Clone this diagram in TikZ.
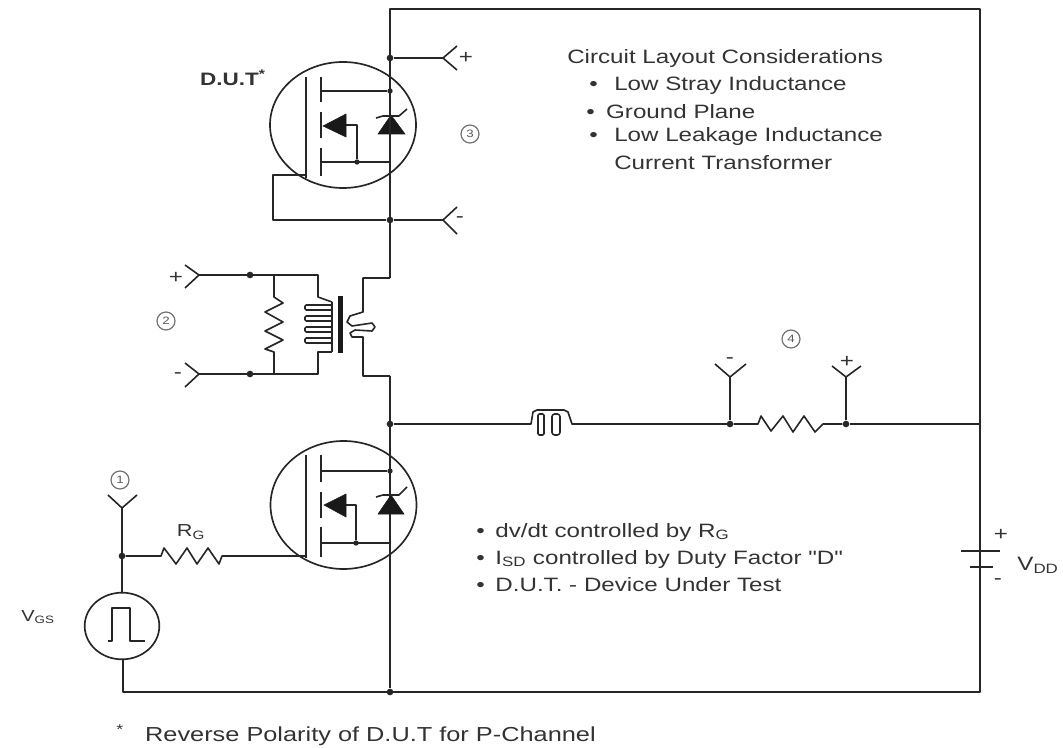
\documentclass[tikz,border=0pt]{standalone}
\usepackage{fontspec}
\newfontfamily\notefont[FakeStretch=1.25]{Liberation Sans}
\usetikzlibrary{shapes.geometric}

\begin{document}
\begin{tikzpicture}[
    x=0.75pt, y=-0.75pt,
    wire/.style={draw=black!85, line width=1.2pt, line join=round},
    symbol/.style={wire, line width=1.2pt},
    dot/.style={circle, fill=black!85, inner sep=0pt, minimum size=5pt},
    envelope/.style={ellipse, draw=black!85, line width=1.25pt, inner sep=0pt},
    txt/.style={text=black!80, font=\notefont\fontsize{14.5}{17}\selectfont, inner sep=0pt},
    stepmark/.style={text=black!65, font=\notefont\fontsize{8}{9}\selectfont, draw=black!55, circle, line width=0.9pt, inner sep=0pt, minimum size=13.5pt},
    solidfill/.style={fill=black!90, draw=black!90}
]
\useasboundingbox (0,0) rectangle (1063,748);

% Corners of the main loop
\coordinate (topleft) at (390,9);
\coordinate (topright) at (980,9);
\coordinate (botleft) at (123,692);
\coordinate (botright) at (980,692);
\node[dot] (botj) at (390,692) {};
\node[dot] (midj) at (390,424) {};
\coordinate (midr) at (980,424);

% D.U.T. mosfet
\node[envelope, minimum width=109.5pt, minimum height=94.5pt] (dut) at (343,125) {};
\node[dot] (sensep) at (390,58) {};
\node[dot] (sensem) at (390,220) {};
\node[dot, minimum size=4pt] (dutd) at (390,91) {};
\node[dot, minimum size=4pt] (duts) at (357,162) {};
\draw[symbol] (306,77) -- (306,178);
\draw[symbol] (321,77) -- (321,102) (321,112) -- (321,138) (321,148) -- (321,176);
\draw[symbol] (321,91) -- (dutd);
\draw[symbol] (321,162) -- (390,162);
\draw[symbol] (346,125) -- (357,125) -- (duts);
\draw[solidfill] (323,126) -- (346,114) -- (346,137) -- cycle;
\draw[solidfill] (391,115) -- (405,134) -- (378,134) -- cycle;
\draw[symbol] (376,118) -- (383,116) -- (399,116) -- (407,109);
\draw[wire] (306,175) -- (273,175) -- (273,220) -- (sensem);

% Sense terminals
\coordinate (plus3) at (443,58);
\coordinate (minus3) at (443,220);
\draw[wire] (sensep) -- (plus3);
\draw[wire] (sensem) -- (minus3);
\draw[wire] (457,46) -- (plus3) -- (457,70);
\draw[wire] (457,207) -- (minus3) -- (457,234);
\node[txt] (plus3lbl) at (466,58) {+};
\node[txt] (minus3lbl) at (460,220) {-};
\node[stepmark] (mark3) at (470,134) {3};
\node[txt, font=\notefont\bfseries\fontsize{13.5}{17}\selectfont] (dutlbl) at (233,78) {D.U.T\textsuperscript{*}};

% Main loop
\draw[wire] (390,278) -- (topleft) -- (topright) -- (botright) -- (botleft) -- (123,659);
\draw[wire] (390,376) -- (botj);
\draw[wire] (midj) -- (520,424);

% Current transformer
\coordinate (ipp) at (199,275);
\coordinate (ipm) at (199,374);
\node[dot] (ippd) at (250,275) {};
\node[dot] (ipmd) at (250,374) {};
\draw[wire] (185,265) -- (ipp) -- (185,288);
\draw[wire] (185,363) -- (ipm) -- (185,387);
\draw[wire] (ipp) -- (318,275) -- (318,297) -- (332,302);
\draw[wire] (ipm) -- (318,374) -- (318,352) -- (332,352);
\draw[symbol] (274,275) -- (274,297) -- (283,303) -- (265,312) -- (283,322) -- (265,331) -- (283,340) -- (265,349) -- (274,352) -- (274,374);
\foreach \ypos in {305,316,327,338}
{
    \draw[symbol, rounded corners=1pt] (332,\ypos) rectangle (305,\ypos+5);
}
\draw[symbol] (332,302) -- (332,352);
\fill[black!90] (337.5,296) rectangle (342.5,353);
\draw[symbol] (390,278) -- (363,278) -- (363,312) -- (350,316) -- (347,322) -- (352,326) -- (372,323) -- (375,327) -- (372,331) -- (355,330) -- (350,333) -- (352,337) -- (363,337) -- (363,376) -- (390,376);
\node[txt] (plus2lbl) at (176,278) {+};
\node[txt] (minus2lbl) at (178,376) {-};
\node[stepmark] (mark2) at (166,321) {2};

% Line inductor
\draw[symbol] (520,424) -- (531,424) -- (533,412) -- (537,410) -- (564,410) -- (568,412) -- (572,424) -- (730,424);
\draw[symbol, rounded corners=1pt] (538,414) rectangle (544,435);
\draw[symbol, rounded corners=2pt] (552,414) rectangle (560,435);

% Current shunt
\node[dot] (shuntm) at (730,424) {};
\node[dot] (shuntp) at (846,424) {};
\coordinate (shuntmt) at (730,377);
\coordinate (shuntpt) at (846,377);
\draw[wire] (shuntm) -- (shuntmt);
\draw[wire] (shuntp) -- (shuntpt);
\draw[wire] (715,364) -- (shuntmt) -- (746,364);
\draw[wire] (832,366) -- (shuntpt) -- (861,366);
\draw[symbol] (shuntm) -- (758,424) -- (761,416) -- (771,431) -- (783,416) -- (793,432) -- (804,416) -- (815,432) -- (823,424) -- (shuntp);
\draw[wire] (shuntp) -- (midr);
\node[txt] (minus4lbl) at (730,361) {-};
\node[txt] (plus4lbl) at (847,362) {+};
\node[stepmark] (mark4) at (791,339) {4};

% Lower mosfet
\node[envelope, minimum width=109.5pt, minimum height=96pt] (low) at (343.5,505) {};
\node[dot, minimum size=4pt] (lowd) at (390,471) {};
\node[dot, minimum size=4pt] (lows) at (356,543) {};
\draw[symbol] (306,455) -- (306,558);
\draw[symbol] (321,455) -- (321,482) (321,492) -- (321,518) (321,527) -- (321,557);
\draw[symbol] (321,471) -- (lowd);
\draw[symbol] (321,543) -- (390,543);
\draw[symbol] (346,505) -- (356,505) -- (lows);
\draw[solidfill] (324,505) -- (346,494) -- (346,517) -- cycle;
\draw[solidfill] (391,495) -- (404,514) -- (378,514) -- cycle;
\draw[symbol] (376,497) -- (383,495) -- (399,495) -- (407,487);

% Gate drive
\coordinate (gatet) at (122,508);
\node[dot] (gated) at (122,556) {};
\node[envelope, minimum width=56pt, minimum height=50pt] (pulse) at (122,626) {};
\draw[wire] (108,495) -- (gatet) -- (137,495);
\draw[wire] (gatet) -- (pulse.north);
\draw[symbol] (gated) -- (161,556) -- (164,548) -- (176,564) -- (187,548) -- (197,564) -- (208,548) -- (219,564) -- (222,556) -- (306,556);
\draw[symbol] (108,641) -- (112,641) -- (112,608) -- (130,608) -- (130,641) -- (145,641);
\node[stepmark] (mark1) at (120,480) {1};
\node[txt, font=\notefont\fontsize{13}{15}\selectfont] (rglbl) at (191,532) {R\textsubscript{G}};
\node[txt, font=\notefont\fontsize{12}{14}\selectfont] (vgslbl) at (38,617) {V\textsubscript{GS}};

% Supply
\coordinate (battp) at (980,551);
\coordinate (battm) at (980,567);
\draw[wire] (961,551) -- (1000,551);
\draw[wire] (970,567) -- (993,567);
\draw[wire] (980,424) -- (battp);
\draw[wire] (battm) -- (980,692);
\node[txt] (vpluslbl) at (1001,535) {+};
\node[txt] (vminuslbl) at (998,582) {-};
\node[txt] (vddlbl) at (1038,565) {V\textsubscript{DD}};

% Notes
\node[txt, anchor=west] (title) at (567,59) {Circuit Layout Considerations};
\node[txt, anchor=west] (n1) at (589,86) {\textbullet\hspace{12.4pt}Low Stray Inductance};
\node[txt, anchor=west] (n2) at (586,112) {\textbullet\hspace{8.6pt}Ground Plane};
\node[txt, anchor=west] (n3) at (589,137) {\textbullet\hspace{12.4pt}Low Leakage Inductance};
\node[txt, anchor=west] (n4) at (614,163) {Current Transformer};
\node[txt, anchor=west] (c1) at (476,532) {\textbullet\hspace{8pt}dv/dt controlled by R\textsubscript{G}};
\node[txt, anchor=west] (c2) at (476,559) {\textbullet\hspace{8pt}I\textsubscript{SD} controlled by Duty Factor "D"};
\node[txt, anchor=west] (c3) at (476,585) {\textbullet\hspace{8pt}D.U.T. - Device Under Test};
\node[txt, anchor=west, font=\notefont\fontsize{15.2}{17}\selectfont] (star) at (116,735) {\textsuperscript{*}\hspace{16pt}Reverse Polarity of D.U.T for P-Channel};

\end{tikzpicture}
\end{document}
